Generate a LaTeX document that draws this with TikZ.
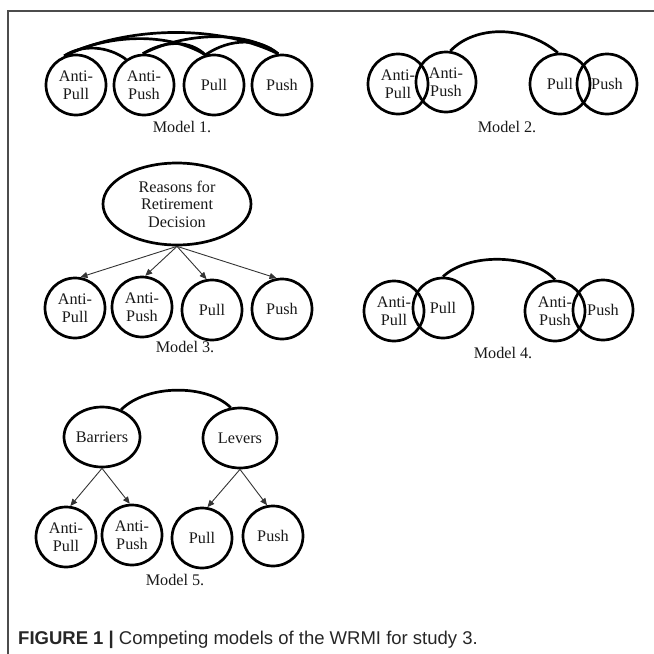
\documentclass[tikz,border=0pt]{standalone}
\usepackage{fontspec}
\setmainfont{Liberation Serif}
\newfontfamily\capfont{Liberation Sans}
\usetikzlibrary{arrows.meta,shapes.geometric}
\begin{document}
\begin{tikzpicture}[x=1pt,y=-1pt,
  fac/.style={circle,draw,line width=2.7pt,minimum size=60pt,inner sep=0pt,align=center,text=black!90,font=\fontsize{16.2}{17.5}\selectfont},
  ell/.style={ellipse,draw,line width=2.7pt,inner sep=0pt,align=center,text=black!90,font=\fontsize{16.2}{17.5}\selectfont},
  lbl/.style={inner sep=0pt,text=black!90,font=\fontsize{16.2}{18}\selectfont},
  cov/.style={line width=2.7pt},
  arr/.style={line width=0.9pt,black!80,-{Triangle[length=7pt,width=6pt]}},
  frameline/.style={line width=1.6pt,black!70}]
\useasboundingbox (0,0) rectangle (654,654);

% frame
\coordinate (fb) at (8,654);
\coordinate (fc) at (8,11);
\coordinate (fr) at (654,11);
\draw[frameline] (fb) -- (fc) -- (fr);

% Model 1
\node[fac] (a1) at (76,85) {Anti-\\Pull};
\node[fac] (b1) at (144,85) {Anti-\\Push};
\node[fac] (c1) at (214,85) {Pull};
\node[fac] (d1) at (282,85) {Push};
\node[lbl] (m1) at (182,127) {Model 1.};
\draw[cov] (a1.112) .. controls (82,44) and (108,46) .. (b1.125);
\draw[cov] (a1.112) .. controls (110,33) and (170,33) .. (c1.106);
\draw[cov] (a1.112) .. controls (130,25) and (220,25) .. (d1.97);
\draw[cov] (b1.92) .. controls (165,40) and (190,40) .. (c1.106);
\draw[cov] (b1.92) .. controls (190,30) and (250,32) .. (d1.97);
\draw[cov] (c1.106) .. controls (230,38) and (260,38) .. (d1.97);

% Model 2
\node[fac] (a2) at (398,84) {Anti-\\Pull};
\node[fac] (b2) at (446,82) {Anti-\\Push};
\node[fac] (c2) at (560,84) {Pull};
\node[fac] (d2) at (607,84) {Push};
\node[lbl] (m2) at (507,127) {Model 2.};
\draw[cov] (b2.82) .. controls (475,25) and (525,25) .. (c2.94);

% Model 3
\node[ell,minimum width=148pt,minimum height=82pt] (r3) at (177,204) {Reasons for\\Retirement\\Decision};
\node[fac] (a3) at (75,308) {Anti-\\Pull};
\node[fac] (b3) at (142,307) {Anti-\\Push};
\node[fac] (c3) at (212,310) {Pull};
\node[fac] (d3) at (282,309) {Push};
\node[lbl] (m3) at (185,347) {Model 3.};
\draw[arr] (r3.south) -- (a3.80);
\draw[arr] (r3.south) -- (b3.84);
\draw[arr] (r3.south) -- (c3.100);
\draw[arr] (r3.south) -- (d3.100);

% Model 4
\node[fac] (a4) at (394,311) {Anti-\\Pull};
\node[fac] (b4) at (443,308) {Pull};
\node[fac] (c4) at (555,311) {Anti-\\Push};
\node[fac] (d4) at (603,310) {Push};
\node[lbl] (m4) at (503,353) {Model 4.};
\draw[cov] (b4.90) .. controls (468,253) and (530,253) .. (c4.90);

% Model 5
\node[ell,minimum width=76pt,minimum height=60pt] (e5) at (102,437) {Barriers};
\node[ell,minimum width=74pt,minimum height=60pt] (f5) at (240,438) {Levers};
\node[fac] (a5) at (66,537) {Anti-\\Pull};
\node[fac] (b5) at (132,535) {Anti-\\Push};
\node[fac] (c5) at (202,538) {Pull};
\node[fac] (d5) at (273,536) {Push};
\node[lbl] (m5) at (175,580) {Model 5.};
\draw[cov] (e5.55) .. controls (147,384) and (207,384) .. (f5.107);
\draw[arr] (e5.south) -- (a5.82);
\draw[arr] (e5.south) -- (b5.94);
\draw[arr] (f5.south) -- (c5.80);
\draw[arr] (f5.south) -- (d5.101);

% caption
\node[anchor=base west,inner sep=0pt,text=black!85,font=\capfont\fontsize{18.5}{20}\selectfont] (cap) at (18,644) {\textbf{FIGURE 1 |} Competing models of the WRMI for study 3.};
\end{tikzpicture}
\end{document}
